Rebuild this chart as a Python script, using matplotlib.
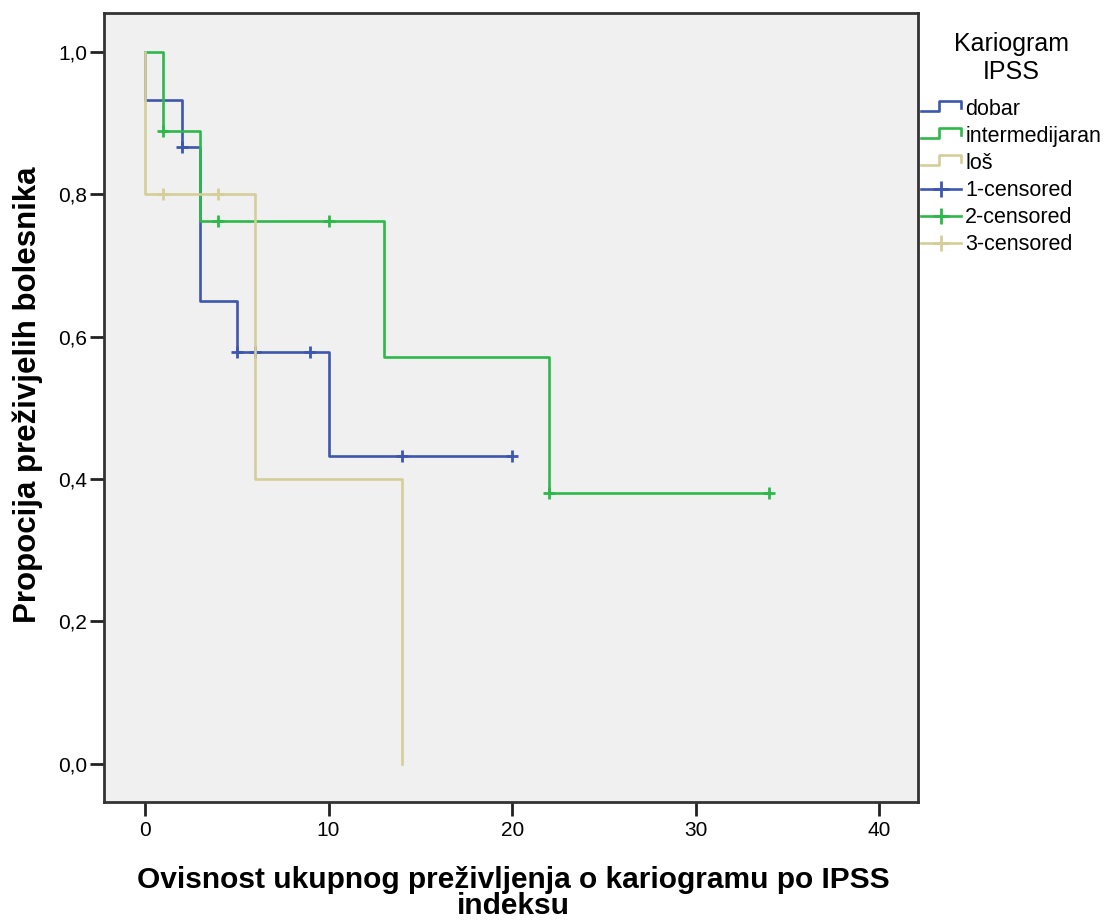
import numpy as np
import matplotlib
matplotlib.use('Agg')
from matplotlib import pyplot as plt
from matplotlib.lines import Line2D
from matplotlib.legend_handler import HandlerBase
from matplotlib.ticker import FuncFormatter

plt.rcParams['font.family'] = ['Liberation Sans', 'DejaVu Sans']

# Kaplan-Meier steps per karyotype group (time, survival)
dobar_t = [0, 0, 2, 3, 5, 10, 20]
dobar_s = [1.0, 0.933, 0.867, 0.65, 0.578, 0.433, 0.433]
inter_t = [0, 1, 3, 13, 22, 34]
inter_s = [1.0, 0.889, 0.762, 0.571, 0.381, 0.381]
los_t = [0, 0, 6, 14]
los_s = [1.0, 0.8, 0.4, 0.0]

# censored observations
dobar_ct = [2, 5, 6, 9, 14, 20]
dobar_cs = [0.867, 0.578, 0.578, 0.578, 0.433, 0.433]
inter_ct = [1, 4, 10, 22, 34]
inter_cs = [0.889, 0.762, 0.762, 0.381, 0.381]
los_ct = [1, 4]
los_cs = [0.8, 0.8]

group_labels = ['dobar', 'intermedijaran', 'loš']
censor_labels = ['1-censored', '2-censored', '3-censored']
colors = ['#3d56b0', '#2eb84a', '#d4cf98']

xticks = [0, 10, 20, 30, 40]
yticks = [0.0, 0.2, 0.4, 0.6, 0.8, 1.0]


class StepHandler(HandlerBase):
    def create_artists(self, legend, orig_handle, xdescent, ydescent,
                       width, height, fontsize, trans):
        xs = np.array([0, 0.45, 0.45, 1.0, 1.0]) * width - xdescent
        ys = np.array([0.3, 0.3, 0.95, 0.95, 0.45]) * height - ydescent
        line = Line2D(xs, ys, color=orig_handle.get_color(),
                      lw=orig_handle.get_linewidth())
        line.set_transform(trans)
        return [line]


fig = plt.figure(figsize=(11.06, 9.21), dpi=100)
ax = fig.add_axes([0.094, 0.1292, 0.736, 0.8567])
ax.set_facecolor('#f0f0f0')

lw = 1.9
data = [(dobar_t, dobar_s, dobar_ct, dobar_cs),
        (inter_t, inter_s, inter_ct, inter_cs),
        (los_t, los_s, los_ct, los_cs)]
order = [2, 0, 1]
step_lines = {}
for i in order:
    t, s, ct, cs = data[i]
    ln, = ax.step(t, s, where='post', color=colors[i], lw=lw, zorder=3 + i)
    ax.plot(ct, cs, ls='none', marker='+', ms=9, mew=2,
            color=colors[i], zorder=3 + i)
    step_lines[i] = ln

ax.set_xlim(-2.23, 42.1)
ax.set_ylim(-0.054, 1.055)
ax.set_xticks(xticks)
ax.set_yticks(yticks)
ax.xaxis.set_major_formatter(FuncFormatter(lambda v, p: '%d' % v))
ax.yaxis.set_major_formatter(
    FuncFormatter(lambda v, p: ('%.1f' % v).replace('.', ',')))
ax.tick_params(axis='both', direction='out', length=10, width=2,
               color='#222222', labelsize=15)
ax.tick_params(axis='x', pad=4)
ax.tick_params(axis='y', pad=2)
for sp in ax.spines.values():
    sp.set_linewidth(2)
    sp.set_color('#333333')

fig.text(28 / 1106, 1 - 394.5 / 921, 'Propocija preživjelih bolesnika',
         rotation=90, ha='center', va='center', fontsize=22.5,
         fontweight='bold')
fig.text(513 / 1106, 1 - 893 / 921,
         'Ovisnost ukupnog preživljenja o kariogramu po IPSS\nindeksu',
         ha='center', va='center', multialignment='center', fontsize=21.5,
         fontweight='bold', linespacing=0.9)

handles = [step_lines[i] for i in range(3)]
for i in range(3):
    handles.append(Line2D([], [], color=colors[i], lw=lw, marker='+',
                          ms=12, mew=2))
labels = group_labels + censor_labels
hmap = {step_lines[i]: StepHandler() for i in range(3)}
leg = fig.legend(handles, labels, handler_map=hmap, loc='upper left',
                 bbox_to_anchor=(921 / 1106, 1 - 32 / 921), frameon=False,
                 borderpad=0, borderaxespad=0, fontsize=15.5, numpoints=1,
                 handlelength=1.85, handletextpad=0.2, labelspacing=0.28,
                 title='Kariogram\nIPSS', title_fontsize=18)
leg.get_title().set_multialignment('center')
leg.get_title().set_linespacing(1.2)
leg._legend_box.sep = 11

fig.savefig('out.png', dpi=100)
